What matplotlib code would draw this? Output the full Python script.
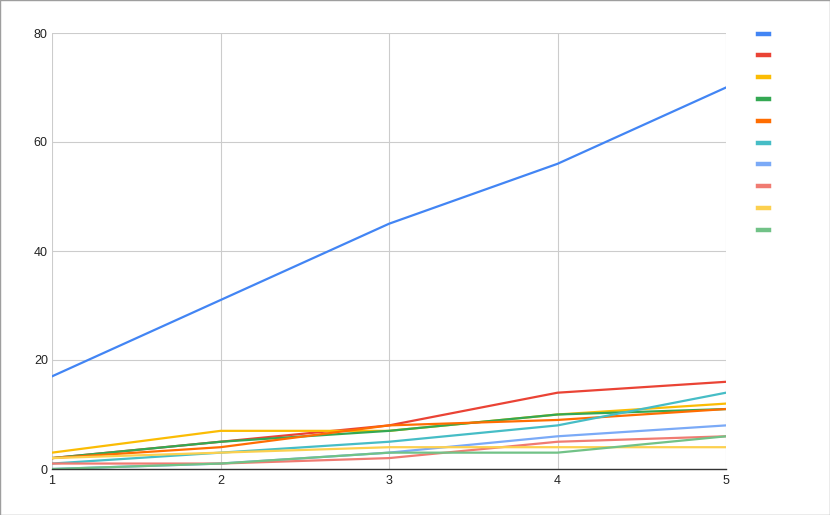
import matplotlib.pyplot as plt
from matplotlib.lines import Line2D

# -----------------------------
# Data
# -----------------------------

x_values = [1, 2, 3, 4, 5]

series_1 = [17, 31, 45, 56, 70]
series_2 = [2, 5, 8, 14, 16]
series_3 = [3, 7, 7, 10, 12]
series_4 = [2, 5, 7, 10, 11]
series_5 = [2, 4, 8, 9, 11]
series_6 = [1, 3, 5, 8, 14]
series_7 = [0, 1, 3, 6, 8]
series_8 = [1, 1, 2, 5, 6]
series_9 = [2, 3, 4, 4, 4]
series_10 = [0, 1, 3, 3, 6]

all_series = [series_1, series_2, series_3, series_4, series_5,
              series_6, series_7, series_8, series_9, series_10]

colors = ["#4285F4", "#EA4335", "#FBBC04", "#34A853", "#FF6D01",
          "#46BDC6", "#7BAAF7", "#F07B72", "#FCD04F", "#71C287"]

y_ticks = [0, 20, 40, 60, 80]

# -----------------------------
# Plot
# -----------------------------

plt.rcParams['font.family'] = ['Liberation Sans', 'DejaVu Sans']

fig = plt.figure(figsize=(8.3, 5.15), dpi=100)
ax = fig.add_axes([52/830, 1 - 469/515, (726 - 52)/830, (469 - 33)/515])

for values, color in zip(all_series, colors):
    ax.plot(x_values, values, color=color, linewidth=1.6, solid_joinstyle='round')

ax.set_xlim(1, 5)
ax.set_ylim(0, 80)
ax.set_xticks(x_values)
ax.set_yticks(y_ticks)

ax.grid(True, color="#cccccc", linewidth=0.8)
ax.set_axisbelow(True)

for side in ["top", "right", "left"]:
    ax.spines[side].set_visible(False)
ax.spines["bottom"].set_color("#333333")
ax.spines["bottom"].set_linewidth(1.0)

ax.tick_params(length=0, labelsize=9, labelcolor="#222222")
ax.tick_params(axis='y', pad=3)
ax.tick_params(axis='x', pad=4)

# legend with colour swatches only
handles = [Line2D([0], [0], color=c, linewidth=3.2) for c in colors]
fig.legend(handles, [""] * len(colors),
           loc="upper left", bbox_to_anchor=(752.5/830, 1 - 22/515),
           frameon=False, handlelength=0.8, handletextpad=0.2,
           labelspacing=0.56, fontsize=10, borderaxespad=0)

# thin border round the figure
fig.patches.append(plt.Rectangle((0, 0), 1, 1, transform=fig.transFigure,
                                 fill=False, edgecolor="#9e9e9e", linewidth=1))

fig.savefig("out.png", dpi=100)
